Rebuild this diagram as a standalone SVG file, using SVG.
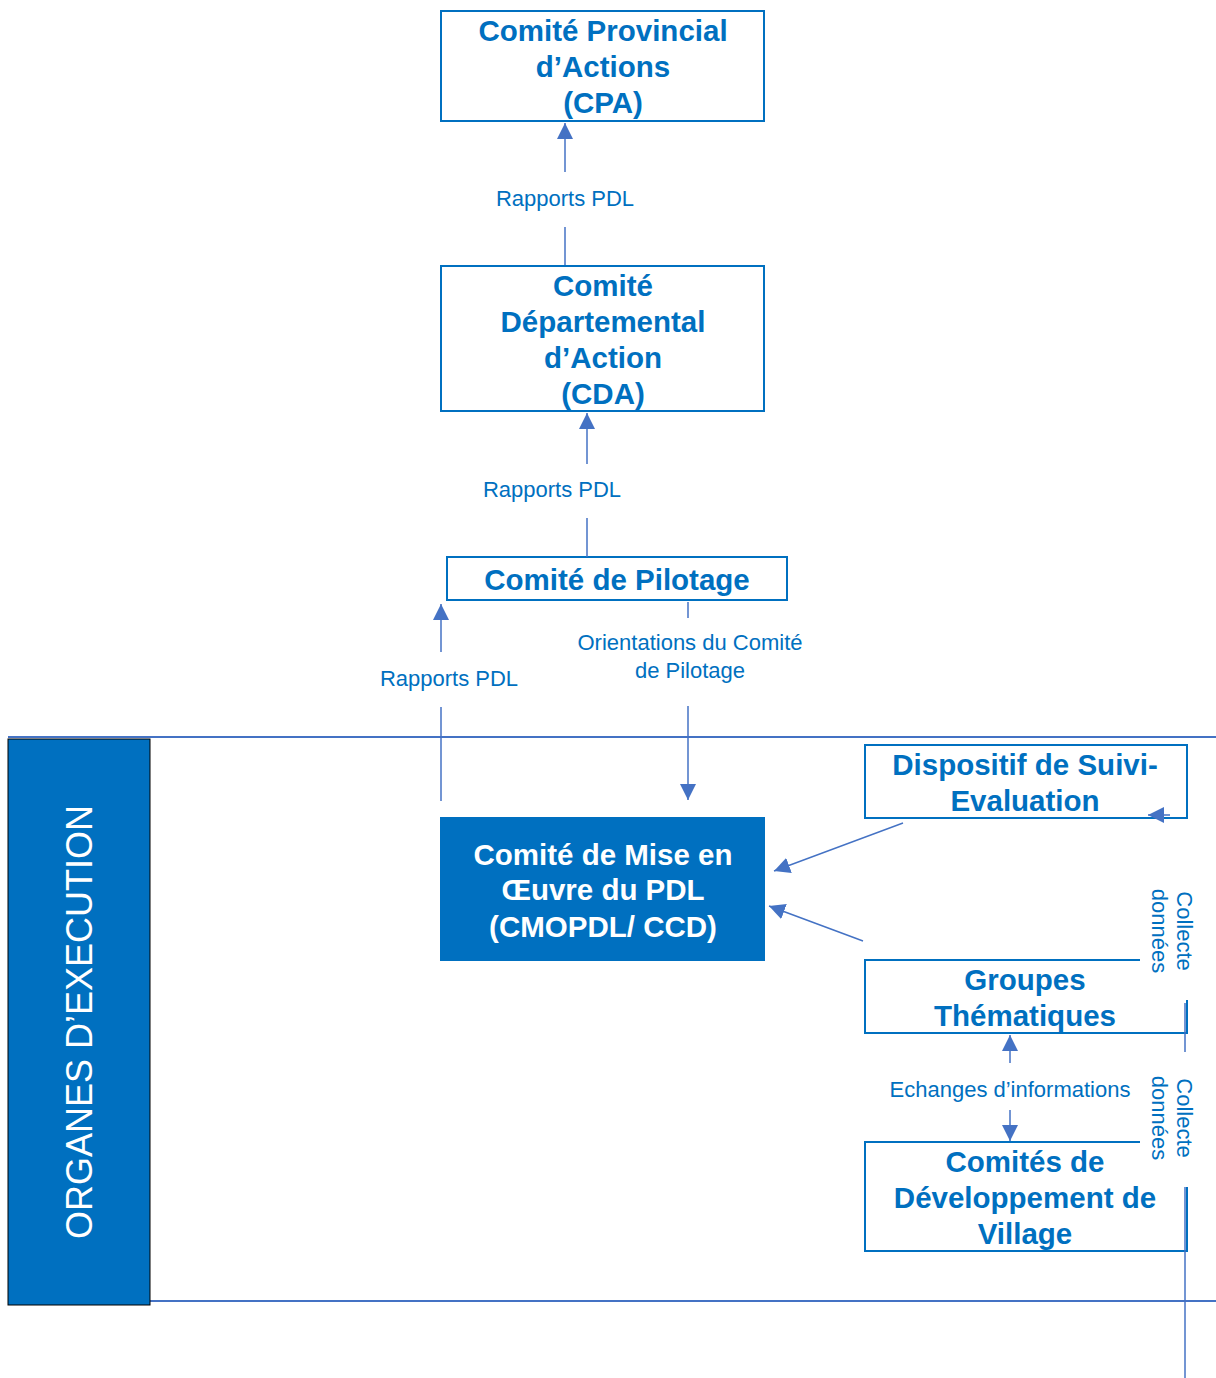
<svg xmlns="http://www.w3.org/2000/svg" width="1216" height="1378" viewBox="0 0 1216 1378">
<style>
.box{fill:#fff;stroke:#0070C0;stroke-width:2}
.fill{fill:#0070C0;stroke:#0070C0;stroke-width:2}
.t{font-family:"Liberation Sans",Arial,sans-serif;font-weight:bold;font-size:29.5px;fill:#0070C0;text-anchor:middle}
.tw{fill:#fff}
.lbl{font-family:"Liberation Sans",Arial,sans-serif;font-size:22px;fill:#0070C0;text-anchor:middle}
.c{stroke:#4472C4;stroke-width:1.5;fill:none}
</style>
<defs>
<marker id="ahb" viewBox="0 0 10 10" refX="10" refY="5" markerWidth="16" markerHeight="16" markerUnits="userSpaceOnUse" orient="auto">
<path d="M0,0 L10,5 L0,10 z" fill="#4472C4"/>
</marker>
</defs>
<rect width="1216" height="1378" fill="#fff"/>

<g id="band">
<line x1="8" y1="737" x2="1216" y2="737" stroke="#4472C4" stroke-width="2"/>
<line x1="8" y1="1301" x2="1216" y2="1301" stroke="#4472C4" stroke-width="2"/>
</g>

<g id="organes">
<rect x="8" y="739" width="142" height="566" fill="#0070C0" stroke="#000" stroke-width="1"/>
<text transform="translate(92,1022) rotate(-90)" font-family="'Liberation Sans',Arial,sans-serif" font-size="36" fill="#fff" text-anchor="middle">ORGANES D’EXECUTION</text>
</g>

<g id="cpa">
<rect class="box" x="441" y="11" width="323" height="110"/>
<text class="t" x="603" y="41">Comité Provincial</text>
<text class="t" x="603" y="77">d’Actions</text>
<text class="t" x="603" y="113">(CPA)</text>
</g>

<g id="cda">
<rect class="box" x="441" y="266" width="323" height="145"/>
<text class="t" x="603" y="296">Comité</text>
<text class="t" x="603" y="332">Départemental</text>
<text class="t" x="603" y="368">d’Action</text>
<text class="t" x="603" y="404">(CDA)</text>
</g>

<g id="pilotage">
<rect class="box" x="447" y="557" width="340" height="43"/>
<text class="t" x="617" y="590" font-size="30.5">Comité de Pilotage</text>
</g>

<g id="cmopdl">
<rect class="fill" x="441" y="818" width="323" height="142"/>
<text class="t tw" x="603" y="865">Comité de Mise en</text>
<text class="t tw" x="603" y="900">Œuvre du PDL</text>
<text class="t tw" x="603" y="937">(CMOPDL/ CCD)</text>
</g>

<g id="dispositif">
<rect class="box" x="865" y="745" width="322" height="73"/>
<text class="t" x="1025" y="775">Dispositif de Suivi-</text>
<text class="t" x="1025" y="811">Evaluation</text>
</g>

<g id="groupes">
<path class="box" d="M1140,960 H865 V1033 H1187 V1000" fill="none"/>
<text class="t" x="1025" y="990">Groupes</text>
<text class="t" x="1025" y="1026">Thématiques</text>
</g>

<g id="cdv">
<path class="box" d="M1140,1142 H865 V1251 H1187 V1187"/>
<text class="t" x="1025" y="1172">Comités de</text>
<text class="t" x="1025" y="1208">Développement de</text>
<text class="t" x="1025" y="1244">Village</text>
</g>

<g id="connectors">
<line class="c" x1="565" y1="172" x2="565" y2="123" marker-end="url(#ahb)"/>
<text class="lbl" x="565" y="206">Rapports PDL</text>
<line class="c" x1="565" y1="227" x2="565" y2="265"/>

<line class="c" x1="587" y1="464" x2="587" y2="413" marker-end="url(#ahb)"/>
<text class="lbl" x="552" y="497">Rapports PDL</text>
<line class="c" x1="587" y1="518" x2="587" y2="557"/>

<line class="c" x1="441" y1="652" x2="441" y2="604" marker-end="url(#ahb)"/>
<text class="lbl" x="449" y="686">Rapports PDL</text>
<line class="c" x1="441" y1="707" x2="441" y2="801"/>

<line class="c" x1="688" y1="602" x2="688" y2="618"/>
<text class="lbl" x="690" y="650">Orientations du Comité</text>
<text class="lbl" x="690" y="678">de Pilotage</text>
<line class="c" x1="688" y1="706" x2="688" y2="800" marker-end="url(#ahb)"/>

<line class="c" x1="903" y1="823" x2="774" y2="871" marker-end="url(#ahb)"/>
<line class="c" x1="863" y1="941" x2="769" y2="906" marker-end="url(#ahb)"/>

<line class="c" x1="1170" y1="815" x2="1148" y2="815" marker-end="url(#ahb)"/>
<line class="c" x1="1185" y1="1003" x2="1185" y2="1052"/>
<text class="lbl" transform="translate(1177,931) rotate(90)">Collecte</text>
<text class="lbl" transform="translate(1152,931) rotate(90)">données</text>

<line class="c" x1="1010" y1="1063" x2="1010" y2="1035" marker-end="url(#ahb)"/>
<text class="lbl" x="1010" y="1097">Echanges d’informations</text>
<line class="c" x1="1010" y1="1110" x2="1010" y2="1141" marker-end="url(#ahb)"/>

<text class="lbl" transform="translate(1177,1118) rotate(90)">Collecte</text>
<text class="lbl" transform="translate(1152,1118) rotate(90)">données</text>
<line class="c" x1="1185" y1="1187" x2="1185" y2="1378"/>
</g>
</svg>
